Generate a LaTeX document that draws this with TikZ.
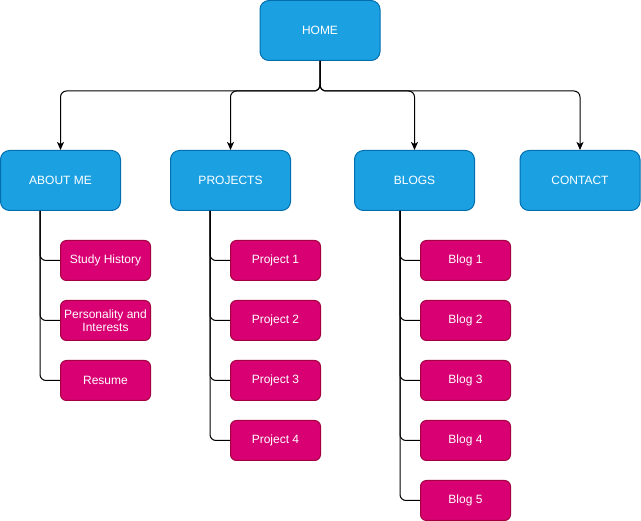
\documentclass[tikz,border=0pt]{standalone}
\usepackage{fontspec}
\setmainfont{Liberation Sans}
\usetikzlibrary{arrows.meta,positioning}
\definecolor{bluefill}{HTML}{1BA1E2}
\definecolor{blueline}{HTML}{006EAF}
\definecolor{pinkfill}{HTML}{D80073}
\definecolor{pinkline}{HTML}{A50040}
\tikzset{
  mainbox/.style={draw=blueline, fill=bluefill, line width=1pt, rounded corners=9pt,
    minimum width=120pt, minimum height=60pt, inner sep=0pt, text=white,
    font=\fontsize{12pt}{14pt}\selectfont, align=center},
  subbox/.style={draw=pinkline, fill=pinkfill, line width=1pt, rounded corners=6pt,
    minimum width=90pt, minimum height=40pt, inner sep=0pt, text=white,
    font=\fontsize{12pt}{14pt}\selectfont, align=center},
  edge/.style={draw=black, line width=1pt, rounded corners=6pt,
    -{Stealth[length=8pt,width=7pt,inset=2pt]}},
  link/.style={draw=black, line width=1pt, rounded corners=6pt}
}
\begin{document}
\begin{tikzpicture}[x=1pt,y=-1pt]
\useasboundingbox (0,0) rectangle (641,521);
% main level
\node[mainbox] (home) at (320,30.5) {HOME};
\node[mainbox] (about) at (60.5,180.5) {ABOUT ME};
\node[mainbox] (projects) at (230.5,180.5) {PROJECTS};
\node[mainbox] (blogs) at (414.5,180.5) {BLOGS};
\node[mainbox] (contact) at (580,180.5) {CONTACT};
% about children
\node[subbox] (sh) at (105.5,260.5) {Study History};
\node[subbox] (pi) at (105.5,320.5) {Personality and\\[-1pt]Interests};
\node[subbox] (resume) at (105.5,380.5) {Resume};
% project children
\node[subbox] (p1) at (275.5,260.5) {Project 1};
\node[subbox] (p2) at (275.5,320.5) {Project 2};
\node[subbox] (p3) at (275.5,380.5) {Project 3};
\node[subbox] (p4) at (275.5,440.5) {Project 4};
% blog children
\node[subbox] (b1) at (465.5,260.5) {Blog 1};
\node[subbox] (b2) at (465.5,320.5) {Blog 2};
\node[subbox] (b3) at (465.5,380.5) {Blog 3};
\node[subbox] (b4) at (465.5,440.5) {Blog 4};
\node[subbox] (b5) at (465.5,500.5) {Blog 5};
% home connectors
\coordinate (split) at ([yshift=-30pt]home.south);
\draw[edge] (home.south) -- (split) -| (about.north);
\draw[edge] (home.south) -- (split) -| (projects.north);
\draw[edge] (home.south) -- (split) -| (blogs.north);
\draw[edge] (home.south) -- (split) -| (contact.north);
% trunks
\coordinate (ta) at ([xshift=40pt]about.south west);
\coordinate (tp) at ([xshift=40pt]projects.south west);
\coordinate (tb) at ([xshift=46pt]blogs.south west);
\foreach \c in {sh,pi,resume} \draw[link] (ta) |- (\c.west);
\foreach \c in {p1,p2,p3,p4} \draw[link] (tp) |- (\c.west);
\foreach \c in {b1,b2,b3,b4,b5} \draw[link] (tb) |- (\c.west);
\end{tikzpicture}
\end{document}
